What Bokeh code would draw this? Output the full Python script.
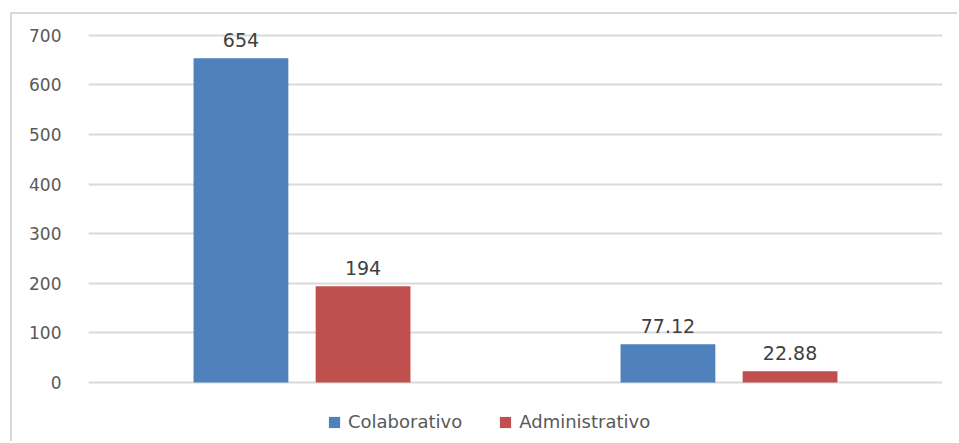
from bokeh.plotting import figure
from bokeh.models import ColumnDataSource, FactorRange, Legend, LegendItem, LabelSet, FixedTicker
from bokeh.transform import dodge
from bokeh.core.properties import value
from bokeh.embed import file_html
from bokeh.resources import INLINE

categorias = ["Cantidad", "Porcentaje"]
colaborativo = [654, 77.12]
administrativo = [194, 22.88]
series = ["Colaborativo", "Administrativo"]
colores = ["#4F81BD", "#C0504D"]
y_ticks = [0, 100, 200, 300, 400, 500, 600, 700]

FONT = "DejaVu Sans"

src = ColumnDataSource(dict(
    cat=categorias,
    colab=colaborativo,
    admin=administrativo,
    colab_lbl=[f"{v:g}" for v in colaborativo],
    admin_lbl=[f"{v:g}" for v in administrativo],
))

# frame extends below zero (legend inside) and above 700 (data label room)
p = figure(x_range=FactorRange(factors=categorias), y_range=(-123, 738),
           width=947, height=429, output_backend="svg", toolbar_location=None,
           min_border_left=76, min_border_top=2, min_border_right=17, min_border_bottom=0)
p.styles = {"border-left": "2px solid #d9d9d9", "border-top": "2px solid #d9d9d9",
            "margin-left": "10px", "margin-top": "12px"}
p.outline_line_color = None

r1 = p.vbar(x=dodge("cat", -0.143, range=p.x_range), top="colab", bottom=0, width=0.222,
            source=src, fill_color=colores[0], line_color=None)
r2 = p.vbar(x=dodge("cat", 0.143, range=p.x_range), top="admin", bottom=0, width=0.222,
            source=src, fill_color=colores[1], line_color=None)

for col, off in (("colab", -0.143), ("admin", 0.143)):
    lbl = LabelSet(x=dodge("cat", off, range=p.x_range), y=col, text=col + "_lbl",
                   source=src, text_align="center", text_baseline="bottom", y_offset=11,
                   text_font=value(FONT), text_font_size=value("19px"),
                   text_color=value("#404040"))
    p.add_layout(lbl)

p.xaxis.visible = False
p.xgrid.grid_line_color = None
p.ygrid.grid_line_color = "#d9d9d9"
p.ygrid.grid_line_width = 2
p.yaxis.ticker = FixedTicker(ticks=y_ticks)
p.yaxis.axis_line_color = None
p.yaxis.major_tick_line_color = None
p.yaxis.minor_tick_line_color = None
p.yaxis.major_label_standoff = 21
p.yaxis.major_label_text_font = FONT
p.yaxis.major_label_text_font_size = "17px"
p.yaxis.major_label_text_color = "#595959"

legend = Legend(items=[LegendItem(label=series[0], renderers=[r1]),
                       LegendItem(label=series[1], renderers=[r2])],
                orientation="horizontal", location=(239, 11),
                glyph_width=14, glyph_height=14, label_standoff=7, spacing=36,
                label_text_font=FONT, label_text_font_size="18px",
                label_text_color="#595959", border_line_color=None,
                background_fill_alpha=0, padding=4, margin=0)
p.add_layout(legend, "center")

open("out.html", "w").write(file_html(p, INLINE))
